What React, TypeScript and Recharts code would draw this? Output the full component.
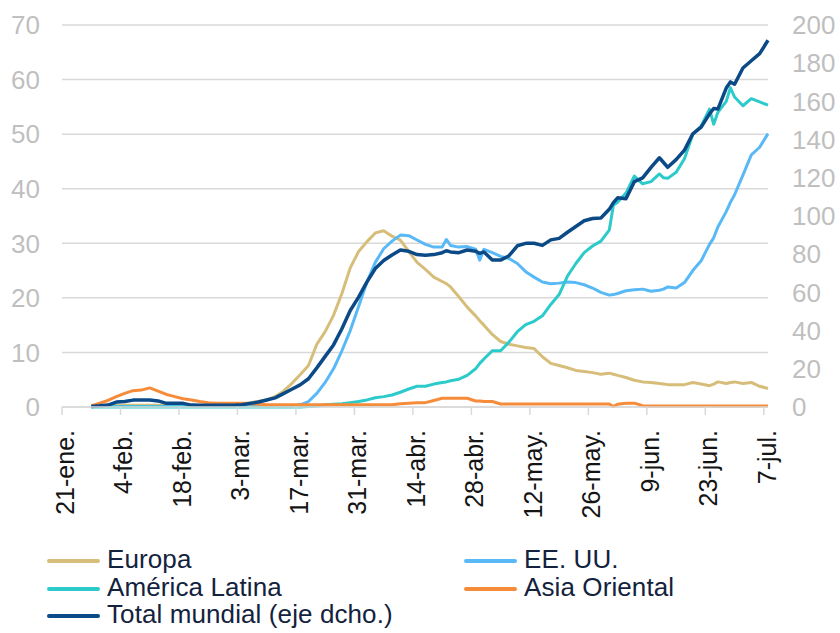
import { LineChart, Line, XAxis, YAxis, CartesianGrid } from "recharts";

const FONT = '"Liberation Sans", Arial, sans-serif';

// days counted from 21-ene.
const DAYS = [
  7, 9, 11, 13, 15, 17, 19, 21, 23, 25, 27, 29, 31, 33, 35, 37, 39, 41, 43, 45, 47, 49, 51, 53, 55, 57, 59, 61, 63, 65,
  67, 69, 71, 73, 75, 77, 79, 81, 83, 85, 87, 89, 91,
  92, 93, 95, 97, 99, 100,
  101, 103, 105, 107, 109, 111, 113, 115, 117, 119, 121, 123, 125, 127, 129, 131,
  132, 133, 135, 137, 139, 141, 143,
  144, 145, 147, 149, 151, 153, 155,
  156, 157, 159, 160,
  161, 163, 165, 167, 169,
];

const TICK_DAYS = [0, 14, 28, 42, 56, 70, 84, 98, 112, 126, 140, 154, 168];
const TICK_LABELS = [
  "21-ene.", "4-feb.", "18-feb.", "3-mar.", "17-mar.", "31-mar.", "14-abr.",
  "28-abr.", "12-may.", "26-may.", "9-jun.", "23-jun.", "7-jul.",
];
const LEFT_TICKS = [0, 10, 20, 30, 40, 50, 60, 70];
const RIGHT_TICKS = [0, 20, 40, 60, 80, 100, 120, 140, 160, 180, 200];

const EUROPA = [
  0.1, 0.2, 0.2, 0.3, 0.3, 0.3, 0.3, 0.3, 0.3, 0.3, 0.3, 0.3, 0.3, 0.3, 0.4, 0.4, 0.5, 0.5, 0.6, 0.8,
  1.0, 1.3, 1.9, 2.9, 4.3, 5.9, 7.6, 11.5, 13.8, 16.8, 20.8, 25.5, 28.5, 30.3, 31.9, 32.3, 31.3, 30.6, 28.5, 26.5,
  25.2, 23.8, 23.0,
  22.6, 22.0, 20.2, 18.3, 16.7, 15.8,
  15.0, 13.3, 12.0, 11.5, 11.2, 10.9, 10.7, 9.2, 8.0, 7.6, 7.2, 6.7, 6.5, 6.3, 6.0, 6.2,
  6.0, 5.8, 5.4, 4.9, 4.6, 4.5, 4.3,
  4.2, 4.1, 4.1, 4.1, 4.5, 4.2, 3.9,
  4.2, 4.6, 4.3, 4.5,
  4.6, 4.3, 4.5, 3.8, 3.4,
];

const EEUU = [
  0.1, 0.1, 0.1, 0.1, 0.1, 0.1, 0.1, 0.1, 0.1, 0.1, 0.1, 0.1, 0.1, 0.1, 0.1, 0.2, 0.2, 0.2, 0.2, 0.2,
  0.2, 0.2, 0.2, 0.2, 0.2, 0.4, 1.0, 2.5, 4.5, 7.0, 10.3, 14.0, 18.4, 22.9, 26.5, 29.0, 30.4, 31.5, 31.4, 30.6,
  29.8, 29.3, 29.3,
  30.7, 29.6, 29.3, 29.4, 28.9, 26.9,
  28.9, 28.3, 27.6, 27.2, 26.3, 24.8, 23.8, 22.9, 22.6, 22.7, 22.9, 22.8, 22.4, 21.8, 21.0, 20.5,
  20.6, 20.8, 21.3, 21.5, 21.6, 21.2, 21.4,
  21.6, 22.0, 21.8, 22.8, 25.0, 26.8, 29.8,
  31.0, 33.0, 35.8, 37.5,
  38.9, 42.5, 46.2, 47.6, 50.1,
];

const AMERICA_LATINA = [
  0, 0, 0, 0, 0, 0, 0, 0, 0, 0, 0, 0, 0, 0, 0, 0, 0, 0, 0, 0,
  0, 0, 0, 0, 0, 0, 0.1, 0.2, 0.4, 0.5, 0.6, 0.8, 1.0, 1.3, 1.7, 1.9, 2.2, 2.7, 3.3, 3.8,
  3.8, 4.2, 4.5,
  4.6, 4.8, 5.1, 5.8, 7.0, 8.0,
  8.8, 10.3, 10.3, 11.9, 13.8, 15.1, 15.7, 16.7, 18.8, 20.6, 24.0, 26.3, 28.3, 29.5, 30.4, 32.4,
  37.0, 37.5, 39.2, 42.3, 40.9, 41.3, 42.7,
  42.0, 41.9, 43.0, 45.5, 50.0, 51.5, 54.6,
  51.8, 54.0, 56.0, 58.5,
  56.8, 55.2, 56.5, 55.9, 55.3,
];

const ASIA_ORIENTAL = [
  0.2, 0.7, 1.2, 1.9, 2.5, 3.0, 3.1, 3.5, 2.9, 2.3, 1.9, 1.5, 1.3, 1.0, 0.8, 0.7, 0.7, 0.7, 0.7, 0.6,
  0.5, 0.4, 0.4, 0.4, 0.4, 0.4, 0.4, 0.4, 0.4, 0.4, 0.4, 0.4, 0.4, 0.4, 0.4, 0.4, 0.4, 0.6, 0.7, 0.8,
  0.8, 1.2, 1.6,
  1.6, 1.6, 1.6, 1.6, 1.1, 1.1,
  1.0, 1.0, 0.55, 0.55, 0.55, 0.55, 0.55, 0.55, 0.55, 0.55, 0.55, 0.55, 0.55, 0.55, 0.55, 0.55,
  0.1, 0.5, 0.7, 0.7, 0.25, 0.2, 0.2,
  0.2, 0.2, 0.2, 0.2, 0.2, 0.2, 0.2,
  0.2, 0.2, 0.2, 0.2,
  0.2, 0.2, 0.2, 0.2, 0.2,
];

// right axis
const TOTAL_MUNDIAL = [
  0.3, 0.6, 1.0, 2.6, 2.9, 3.6, 3.7, 3.7, 3.2, 1.9, 1.9, 1.9, 1.0, 0.9, 0.9, 0.9, 0.9, 0.9, 1.2, 1.9,
  2.6, 3.7, 4.8, 7.0, 9.3, 11.6, 14.8, 20.5, 26.5, 32.5, 41.0, 50.5, 57.5, 65.5, 72.5, 76.7, 79.6, 82.2, 81.5, 79.8,
  79.4, 79.8, 80.8,
  81.8, 81.2, 80.8, 82.2, 81.6, 80.4,
  81.2, 77.0, 76.9, 79.2, 84.4, 85.7, 85.7, 84.6, 87.5, 88.3, 91.5, 94.5, 97.5, 98.7, 99.0, 103.5,
  107.0, 109.5, 109.0, 118.0, 120.0, 125.5, 130.5,
  128.0, 125.5, 129.5, 134.5, 143.0, 146.5, 153.5,
  156.3, 156.0, 167.0, 170.2,
  169.0, 177.5, 181.3, 185.0, 192.0,
];

const SERIES = [
  { key: "europa", name: "Europa", color: "#D6BE7A", values: EUROPA, axis: "left" },
  { key: "eeuu", name: "EE. UU.", color: "#59B9F6", values: EEUU, axis: "left" },
  { key: "latam", name: "América Latina", color: "#2CCACA", values: AMERICA_LATINA, axis: "left" },
  { key: "asia", name: "Asia Oriental", color: "#F68B3A", values: ASIA_ORIENTAL, axis: "left" },
  { key: "total", name: "Total mundial (eje dcho.)", color: "#0B4A86", values: TOTAL_MUNDIAL, axis: "right" },
];

const data = DAYS.map((day, i) => {
  const row: Record<string, number> = { day };
  SERIES.forEach((s) => {
    row[s.key] = s.values[i];
  });
  return row;
});

// legend slots: [left of line, centre y]
const LEGEND_POS = [
  [47, 561],
  [464, 561],
  [47, 588.5],
  [464, 588.5],
  [47, 616],
];

function DateTick({ x, y, payload }: any) {
  const idx = TICK_DAYS.indexOf(payload.value);
  return (
    <text
      x={x + 3}
      y={y}
      transform={`rotate(-90, ${x + 3}, ${y})`}
      textAnchor="end"
      dominantBaseline="central"
      fontSize={25}
      fontFamily={FONT}
      fill="#141414"
    >
      {TICK_LABELS[idx]}
    </text>
  );
}

export default function App() {
  return (
    <div
      style={{
        position: "absolute",
        left: 0,
        top: 0,
        width: 840,
        height: 633,
        background: "#fff",
        fontFamily: FONT,
      }}
    >
      <LineChart
        width={840}
        height={633}
        data={data}
        margin={{ top: 25, right: 0, bottom: 0, left: 0 }}
      >
        <CartesianGrid
          yAxisId="left"
          vertical={false}
          stroke="#D9D9D9"
          strokeWidth={1.5}
        />
        <XAxis
          dataKey="day"
          type="number"
          domain={[0, 169]}
          ticks={TICK_DAYS}
          interval={0}
          height={226}
          tick={<DateTick />}
          tickSize={8}
          tickMargin={15}
          axisLine={{ stroke: "#D9D9D9", strokeWidth: 1.5 }}
          tickLine={{ stroke: "#D9D9D9", strokeWidth: 1.5 }}
        />
        <YAxis
          yAxisId="left"
          width={62}
          domain={[0, 70]}
          ticks={LEFT_TICKS}
          interval={0}
          axisLine={false}
          tickLine={false}
          tickSize={0}
          tickMargin={22}
          tick={{ fill: "#BFBFBF", fontSize: 26, fontFamily: FONT }}
        />
        <YAxis
          yAxisId="right"
          orientation="right"
          width={72}
          domain={[0, 200]}
          ticks={RIGHT_TICKS}
          interval={0}
          axisLine={false}
          tickLine={false}
          tickSize={0}
          tickMargin={24}
          tick={{ fill: "#BFBFBF", fontSize: 26, fontFamily: FONT, textAnchor: "start" }}
        />
        {SERIES.map((s) => (
          <Line
            key={s.key}
            yAxisId={s.axis}
            dataKey={s.key}
            type="linear"
            stroke={s.color}
            strokeWidth={s.key === "total" ? 3.5 : 3}
            strokeLinejoin="round"
            dot={false}
            activeDot={false}
            isAnimationActive={false}
          />
        ))}
      </LineChart>

      {SERIES.map((s, i) => {
        const [lx, ly] = LEGEND_POS[i];
        return (
          <div key={s.key}>
            <div
              style={{
                position: "absolute",
                left: lx,
                top: ly - 2,
                width: 53,
                height: 4,
                borderRadius: 2,
                background: s.color,
              }}
            />
            <div
              style={{
                position: "absolute",
                left: lx + 60,
                top: ly - 16,
                fontSize: 26,
                lineHeight: "28px",
                color: "#13223D",
                whiteSpace: "nowrap",
                letterSpacing: 0.1,
              }}
            >
              {s.name}
            </div>
          </div>
        );
      })}
    </div>
  );
}
